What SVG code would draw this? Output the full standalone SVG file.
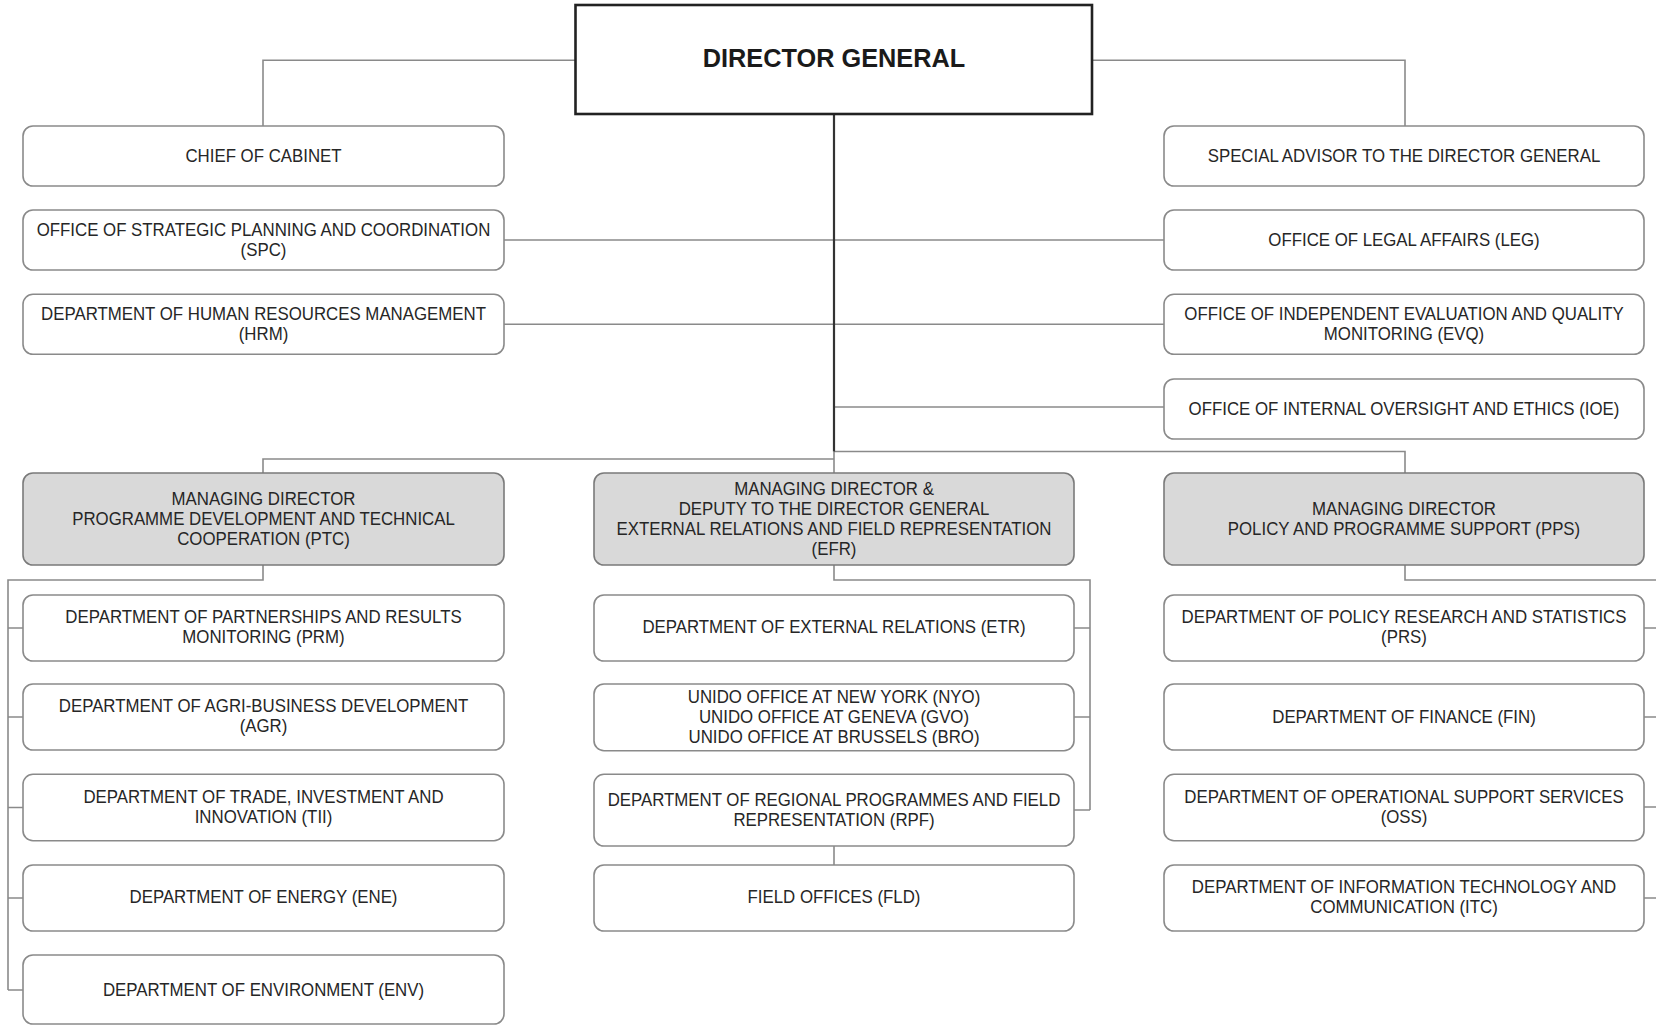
<svg xmlns="http://www.w3.org/2000/svg" width="1656" height="1025" viewBox="0 0 1656 1025">
<style>
.bg{fill:#ffffff}
.box{fill:#ffffff;stroke:#8a8a8a;stroke-width:1.6}
.md{fill:#d9d9d9;stroke:#7a7a7a;stroke-width:1.6}
.dg{fill:#ffffff;stroke:#222222;stroke-width:2.6}
.t{font-family:"Liberation Sans",Arial,sans-serif;font-size:18.5px;fill:#262626;text-anchor:middle}
.tdg{font-family:"Liberation Sans",Arial,sans-serif;font-size:26.5px;font-weight:bold;fill:#1a1a1a;text-anchor:middle}
.c{fill:none;stroke:#8a8a8a;stroke-width:1.6}
.cd{fill:none;stroke:#333333;stroke-width:2.2}
</style>
<rect class="bg" x="0" y="0" width="1656" height="1025"/>
<g id="connectors">
<path class="c" d="M575.5 60.3 H263 V126"/>
<path class="c" d="M1092 60.3 H1405 V126"/>
<path class="c" d="M504 240 H1164"/>
<path class="c" d="M504 324.3 H1164"/>
<path class="c" d="M834 407 H1164"/>
<path class="c" d="M834 451.5 H1405 V473"/>
<path class="c" d="M834 459 H263 V473"/>
<path class="c" d="M834 451.5 V473"/>
<path class="cd" d="M834 114 V451.5"/>
<path class="c" d="M263 565 V580 H8 V990 M8 628 H23 M8 717 H23 M8 807.5 H23 M8 898 H23 M8 990 H23"/>
<path class="c" d="M834 565 V580 H1090 V810 M1074 628 H1090 M1074 717 H1090 M1074 810 H1090"/>
<path class="c" d="M834 846 V865"/>
<path class="c" d="M1405 565 V580 H1657 V898 M1644 628 H1657 M1644 717 H1657 M1644 807 H1657 M1644 898 H1657"/>
</g>
<g id="dg">
<rect class="dg" x="575.5" y="5" width="516.5" height="109"/>
<text class="tdg" transform="matrix(0.955 0 0 1 834 0)"><tspan x="0" y="67.3">DIRECTOR GENERAL</tspan></text>
</g>
<g id="chief">
<rect class="box" x="23" y="126" width="481" height="60" rx="10"/>
<text class="t" transform="matrix(0.91 0 0 1 263.5 0)"><tspan x="0" y="162">CHIEF OF CABINET</tspan></text>
</g>
<g id="spc">
<rect class="box" x="23" y="210" width="481" height="60" rx="10"/>
<text class="t" transform="matrix(0.91 0 0 1 263.5 0)"><tspan x="0" y="236">OFFICE OF STRATEGIC PLANNING AND COORDINATION</tspan><tspan x="0" y="256">(SPC)</tspan></text>
</g>
<g id="hrm">
<rect class="box" x="23" y="294.3" width="481" height="60" rx="10"/>
<text class="t" transform="matrix(0.91 0 0 1 263.5 0)"><tspan x="0" y="320.3">DEPARTMENT OF HUMAN RESOURCES MANAGEMENT</tspan><tspan x="0" y="340.3">(HRM)</tspan></text>
</g>
<g id="special">
<rect class="box" x="1164" y="126" width="480" height="60" rx="10"/>
<text class="t" transform="matrix(0.91 0 0 1 1404 0)"><tspan x="0" y="162">SPECIAL ADVISOR TO THE DIRECTOR GENERAL</tspan></text>
</g>
<g id="leg">
<rect class="box" x="1164" y="210" width="480" height="60" rx="10"/>
<text class="t" transform="matrix(0.91 0 0 1 1404 0)"><tspan x="0" y="246">OFFICE OF LEGAL AFFAIRS (LEG)</tspan></text>
</g>
<g id="evq">
<rect class="box" x="1164" y="294.3" width="480" height="60" rx="10"/>
<text class="t" transform="matrix(0.91 0 0 1 1404 0)"><tspan x="0" y="320.3">OFFICE OF INDEPENDENT EVALUATION AND QUALITY</tspan><tspan x="0" y="340.3">MONITORING (EVQ)</tspan></text>
</g>
<g id="ioe">
<rect class="box" x="1164" y="379" width="480" height="60" rx="10"/>
<text class="t" transform="matrix(0.91 0 0 1 1404 0)"><tspan x="0" y="415">OFFICE OF INTERNAL OVERSIGHT AND ETHICS (IOE)</tspan></text>
</g>
<g id="ptc">
<rect class="md" x="23" y="473" width="481" height="92" rx="10"/>
<text class="t" transform="matrix(0.91 0 0 1 263.5 0)"><tspan x="0" y="505">MANAGING DIRECTOR</tspan><tspan x="0" y="525">PROGRAMME DEVELOPMENT AND TECHNICAL</tspan><tspan x="0" y="545.5">COOPERATION (PTC)</tspan></text>
</g>
<g id="efr">
<rect class="md" x="594" y="473" width="480" height="92" rx="10"/>
<text class="t" transform="matrix(0.91 0 0 1 834 0)"><tspan x="0" y="495.5">MANAGING DIRECTOR &amp;</tspan><tspan x="0" y="515.5">DEPUTY TO THE DIRECTOR GENERAL</tspan><tspan x="0" y="535.5">EXTERNAL RELATIONS AND FIELD REPRESENTATION</tspan><tspan x="0" y="555.5">(EFR)</tspan></text>
</g>
<g id="pps">
<rect class="md" x="1164" y="473" width="480" height="92" rx="10"/>
<text class="t" transform="matrix(0.91 0 0 1 1404 0)"><tspan x="0" y="515.5">MANAGING DIRECTOR</tspan><tspan x="0" y="535.5">POLICY AND PROGRAMME SUPPORT (PPS)</tspan></text>
</g>
<g id="prm">
<rect class="box" x="23" y="595" width="481" height="66" rx="10"/>
<text class="t" transform="matrix(0.91 0 0 1 263.5 0)"><tspan x="0" y="623">DEPARTMENT OF PARTNERSHIPS AND RESULTS</tspan><tspan x="0" y="643">MONITORING (PRM)</tspan></text>
</g>
<g id="agr">
<rect class="box" x="23" y="684" width="481" height="66" rx="10"/>
<text class="t" transform="matrix(0.91 0 0 1 263.5 0)"><tspan x="0" y="712.5">DEPARTMENT OF AGRI-BUSINESS DEVELOPMENT</tspan><tspan x="0" y="732.5">(AGR)</tspan></text>
</g>
<g id="tii">
<rect class="box" x="23" y="774.3" width="481" height="66.4" rx="10"/>
<text class="t" transform="matrix(0.91 0 0 1 263.5 0)"><tspan x="0" y="803">DEPARTMENT OF TRADE, INVESTMENT AND</tspan><tspan x="0" y="823">INNOVATION (TII)</tspan></text>
</g>
<g id="ene">
<rect class="box" x="23" y="865" width="481" height="66" rx="10"/>
<text class="t" transform="matrix(0.91 0 0 1 263.5 0)"><tspan x="0" y="903">DEPARTMENT OF ENERGY (ENE)</tspan></text>
</g>
<g id="env">
<rect class="box" x="23" y="955" width="481" height="69" rx="10"/>
<text class="t" transform="matrix(0.91 0 0 1 263.5 0)"><tspan x="0" y="996.5">DEPARTMENT OF ENVIRONMENT (ENV)</tspan></text>
</g>
<g id="etr">
<rect class="box" x="594" y="595" width="480" height="66" rx="10"/>
<text class="t" transform="matrix(0.91 0 0 1 834 0)"><tspan x="0" y="633.5">DEPARTMENT OF EXTERNAL RELATIONS (ETR)</tspan></text>
</g>
<g id="nyo">
<rect class="box" x="594" y="684" width="480" height="66.7" rx="10"/>
<text class="t" transform="matrix(0.91 0 0 1 834 0)"><tspan x="0" y="703">UNIDO OFFICE AT NEW YORK (NYO)</tspan><tspan x="0" y="723.5">UNIDO OFFICE AT GENEVA (GVO)</tspan><tspan x="0" y="743.5">UNIDO OFFICE AT BRUSSELS (BRO)</tspan></text>
</g>
<g id="rpf">
<rect class="box" x="594" y="774.3" width="480" height="71.7" rx="10"/>
<text class="t" transform="matrix(0.91 0 0 1 834 0)"><tspan x="0" y="806.5">DEPARTMENT OF REGIONAL PROGRAMMES AND FIELD</tspan><tspan x="0" y="826.5">REPRESENTATION (RPF)</tspan></text>
</g>
<g id="fld">
<rect class="box" x="594" y="865" width="480" height="66" rx="10"/>
<text class="t" transform="matrix(0.91 0 0 1 834 0)"><tspan x="0" y="903">FIELD OFFICES (FLD)</tspan></text>
</g>
<g id="prs">
<rect class="box" x="1164" y="595" width="480" height="66" rx="10"/>
<text class="t" transform="matrix(0.91 0 0 1 1404 0)"><tspan x="0" y="623">DEPARTMENT OF POLICY RESEARCH AND STATISTICS</tspan><tspan x="0" y="643">(PRS)</tspan></text>
</g>
<g id="fin">
<rect class="box" x="1164" y="684" width="480" height="66" rx="10"/>
<text class="t" transform="matrix(0.91 0 0 1 1404 0)"><tspan x="0" y="723">DEPARTMENT OF FINANCE (FIN)</tspan></text>
</g>
<g id="oss">
<rect class="box" x="1164" y="774.3" width="480" height="66.4" rx="10"/>
<text class="t" transform="matrix(0.91 0 0 1 1404 0)"><tspan x="0" y="803">DEPARTMENT OF OPERATIONAL SUPPORT SERVICES</tspan><tspan x="0" y="823">(OSS)</tspan></text>
</g>
<g id="itc">
<rect class="box" x="1164" y="865" width="480" height="66" rx="10"/>
<text class="t" transform="matrix(0.91 0 0 1 1404 0)"><tspan x="0" y="893">DEPARTMENT OF INFORMATION TECHNOLOGY AND</tspan><tspan x="0" y="913">COMMUNICATION (ITC)</tspan></text>
</g>
</svg>
